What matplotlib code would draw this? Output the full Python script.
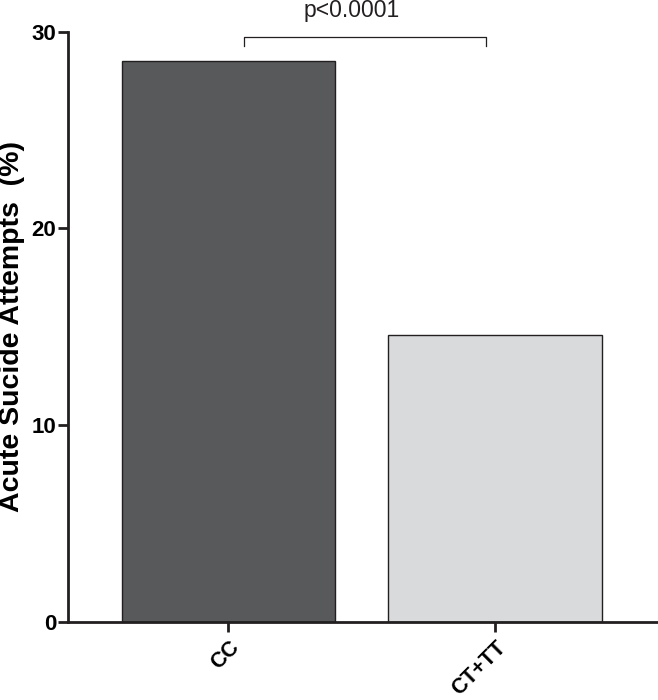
"""Bar chart of acute suicide attempts by genotype group."""

import matplotlib
matplotlib.use("Agg")
import matplotlib.pyplot as plt

plt.rcParams["font.family"] = ["Liberation Sans", "DejaVu Sans"]

groups = ["CC", "CT+TT"]
attempts_pct = [28.5, 14.6]
bar_colors = ["#58595b", "#d9dadc"]
y_ticks = [0, 10, 20, 30]
p_label = "p<0.0001"

ink = "#231f20"

fig = plt.figure(figsize=(6.58, 7.0), dpi=100)
ax = fig.add_axes([0.1038, 0.1119, 0.8942, 0.8428])

x = range(len(groups))
ax.bar(x, attempts_pct, width=0.8, color=bar_colors,
       edgecolor=ink, linewidth=1.0)

ax.set_xlim(-0.6, 1.606)
ax.set_ylim(0, 30)
ax.set_yticks(y_ticks)
ax.set_xticks(list(x))
ax.set_xticklabels(groups, rotation=45, ha="right", rotation_mode="anchor",
                   fontsize=15.5, fontweight="bold")
for lab in ax.get_yticklabels():
    lab.set_fontsize(16)
    lab.set_fontweight("bold")

# y label centred on the axis, placed by hand so it stays inside the figure
fig.text(12.5 / 658, 0.5334, "Acute Sucide Attempts  (%)", rotation=90,
         ha="center", va="center", fontsize=20.5, fontweight="bold")

for side in ("top", "right"):
    ax.spines[side].set_visible(False)
for side in ("left", "bottom"):
    ax.spines[side].set_linewidth(2.0)
    ax.spines[side].set_color(ink)
ax.tick_params(axis="y", length=7, width=2, color=ink, pad=1.5)
ax.tick_params(axis="x", length=7, width=2, color=ink, pad=4)

# significance bracket
x0, x1 = 0.059, 0.965
y_top, y_end = 29.71, 29.27
ax.plot([x0, x0, x1, x1], [y_end, y_top, y_top, y_end], color=ink,
        linewidth=0.9, clip_on=False)
ax.text(0.463, 30.73, p_label, ha="center", va="baseline",
        fontsize=16.5, color=ink, clip_on=False)

fig.savefig("out.png", dpi=100)
